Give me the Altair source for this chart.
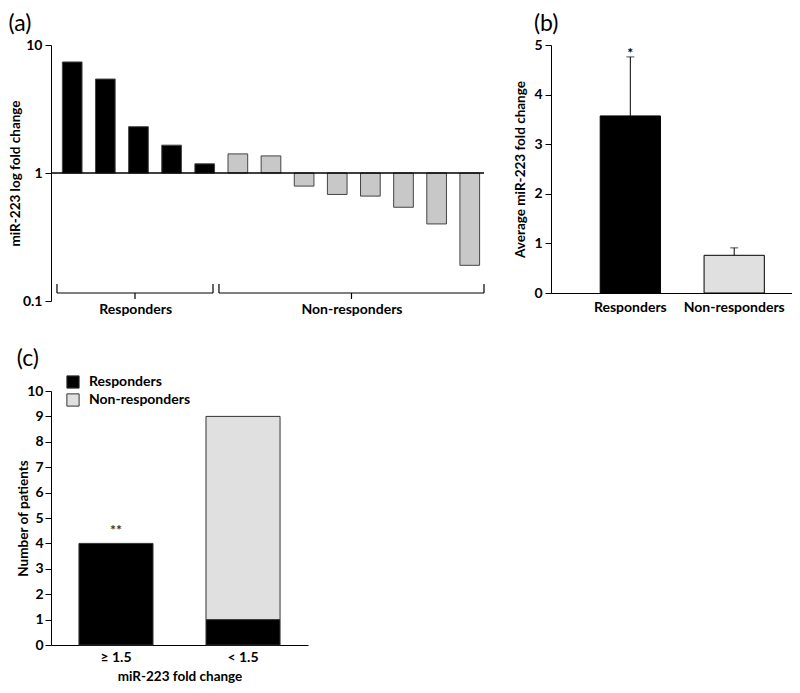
import altair as alt
import pandas as pd

FONT = "Lato"

# ---------------- data ----------------
# Panel (a): individual patients
a_pos = list(range(1, 14))
a_values = [7.37, 5.42, 2.30, 1.65, 1.18, 1.41, 1.36, 0.79, 0.68, 0.66, 0.54, 0.40, 0.19]
a_groups = ["Responders"] * 5 + ["Non-responders"] * 8
a_label_pos = [2.9, 9.43]
a_label_text = ["Responders", "Non-responders"]
br_start = [0.54, 5.43]
br_end = [5.25, 13.43]

# Panel (b): averages
b_groups = ["Responders", "Non-responders"]
b_means = [3.57, 0.76]
b_errors = [1.19, 0.15]
b_marks = ["*", ""]

# Panel (c): counts
c_bins = ["≥ 1.5", "≥ 1.5", "< 1.5", "< 1.5"]
c_groups = ["Responders", "Non-responders", "Responders", "Non-responders"]
c_counts = [4, 0, 1, 8]
c_bin_order = ["≥ 1.5", "< 1.5"]
c_marks_bins = ["≥ 1.5"]
c_marks_vals = [4]
c_marks_text = ["**"]

GROUPS = ["Responders", "Non-responders"]

axis_common = dict(
    labelFont=FONT, titleFont=FONT, labelFontWeight="bold", titleFontWeight="bold",
    labelFontSize=14, titleFontSize=13.5, labelColor="black", titleColor="black",
    domainColor="black", tickColor="black", grid=False, labelOverlap=False,
)

def panel_title(t, dx=0, offset=2):
    return alt.TitleParams(text=t, anchor="start", font=FONT, fontSize=23,
                           fontWeight="normal", color="black", offset=offset, dx=dx)

# ---------------- panel (a) ----------------
dfa = pd.DataFrame({"pos": a_pos, "value": a_values, "group": a_groups})
dfa["x0"] = dfa["pos"] - 0.297
dfa["x1"] = dfa["pos"] + 0.297
dfa["base"] = 1.0

xa = alt.Scale(domain=[0.36, 13.43], nice=False, zero=False)
ya = alt.Scale(type="log", domain=[0.1, 10], nice=False)
xa_axis = alt.Axis(values=a_label_pos, domain=False, ticks=False,
                   labelExpr="datum.value < 5 ? 'Responders' : 'Non-responders'",
                   labelPadding=1, labelFlush=False, **axis_common)
ya_axis = alt.Axis(values=[0.1, 1, 10], format="~g", tickSize=6, labelPadding=3,
                   titlePadding=0, **axis_common)
ya_title = "miR-223 log fold change"

bars_a = alt.Chart(dfa).mark_bar(stroke="#444444", strokeWidth=1).encode(
    x=alt.X("x0:Q", scale=xa, title=None, axis=xa_axis),
    x2="x1",
    y=alt.Y("value:Q", scale=ya, title=ya_title, axis=ya_axis),
    y2="base",
    color=alt.Color("group:N", scale=alt.Scale(domain=GROUPS, range=["#000000", "#c8c8c8"]),
                    legend=None),
)

base_rule = alt.Chart(pd.DataFrame({"y": [1.0]})).mark_rule(color="black", strokeWidth=1.5).encode(
    y=alt.Y("y:Q", scale=ya, title=ya_title, axis=ya_axis)
)

br_y, br_tip, br_tail = 0.1155, 0.136, 0.1037
segs = []
for s, e in zip(br_start, br_end):
    m = (s + e) / 2
    segs += [
        dict(x=s, x2=e, y=br_y, y2=br_y),
        dict(x=s, x2=s, y=br_y, y2=br_tip),
        dict(x=e, x2=e, y=br_y, y2=br_tip),
        dict(x=m, x2=m, y=br_y, y2=br_tail),
    ]
brackets = alt.Chart(pd.DataFrame(segs)).mark_rule(color="black", strokeWidth=1.2).encode(
    x=alt.X("x:Q", scale=xa, title=None, axis=xa_axis), x2="x2",
    y=alt.Y("y:Q", scale=ya, title=ya_title, axis=ya_axis), y2="y2"
)

panel_a = alt.layer(bars_a, base_rule, brackets).properties(
    width=433, height=256, title=panel_title("(a)", offset=2)
)

# ---------------- panel (b) ----------------
dfb = pd.DataFrame({"group": b_groups, "mean": b_means, "err": b_errors, "mark": b_marks})
dfb["top"] = dfb["mean"] + dfb["err"]

xb = alt.Scale(domain=b_groups, paddingInner=0.42, paddingOuter=0.37, align=0.64)
yb = alt.Scale(domain=[0, 5], nice=False)
xb_axis = alt.Axis(labelAngle=0, ticks=False, labelPadding=7, **axis_common)
yb_axis = alt.Axis(values=[0, 1, 2, 3, 4, 5], tickSize=6, labelPadding=3,
                   titlePadding=6, **axis_common)
xb_enc = alt.X("group:N", scale=xb, sort=b_groups, title=None, axis=xb_axis)
yb_title = "Average miR-223 fold change"

bars_b = alt.Chart(dfb).mark_bar(stroke="black", strokeWidth=1).encode(
    x=xb_enc,
    y=alt.Y("mean:Q", scale=yb, title=yb_title, axis=yb_axis),
    color=alt.Color("group:N", scale=alt.Scale(domain=GROUPS, range=["#000000", "#e0e0e0"]),
                    legend=None),
)
err_b = alt.Chart(dfb).mark_rule(color="black", strokeWidth=1).encode(
    x=xb_enc, y=alt.Y("mean:Q", scale=yb, title=yb_title, axis=yb_axis), y2="top"
)
cap_b = alt.Chart(dfb).mark_tick(color="black", thickness=1, size=8).encode(
    x=xb_enc, y=alt.Y("top:Q", scale=yb, title=yb_title, axis=yb_axis)
)
star_b = alt.Chart(dfb).mark_text(font=FONT, fontSize=14, fontWeight="bold", dy=-3,
                                  baseline="middle").encode(
    x=xb_enc, y=alt.Y("top:Q", scale=yb, title=yb_title, axis=yb_axis), text="mark:N"
)

panel_b = alt.layer(bars_b, err_b, cap_b, star_b).properties(
    width=241, height=248, title=panel_title("(b)", dx=20, offset=2)
)

# ---------------- panel (c) ----------------
dfc = pd.DataFrame({"bin": c_bins, "group": c_groups, "count": c_counts})
dfc["ord"] = dfc["group"].map({g: i for i, g in enumerate(GROUPS)})

xc = alt.Scale(domain=c_bin_order, paddingInner=0.417, paddingOuter=0.22)
yc = alt.Scale(domain=[0, 10], nice=False)
xc_axis = alt.Axis(labelAngle=0, ticks=False, labelPadding=5, titlePadding=5, **axis_common)
yc_axis = alt.Axis(values=list(range(11)), tickSize=6, labelPadding=2,
                   titlePadding=-4, **axis_common)
xc_enc = alt.X("bin:N", scale=xc, sort=c_bin_order, title="miR-223 fold change", axis=xc_axis)
yc_title = "Number of patients"

bars_c = alt.Chart(dfc).transform_filter("datum.count > 0").mark_bar(
    stroke="#333333", strokeWidth=1
).encode(
    x=xc_enc,
    y=alt.Y("count:Q", scale=yc, stack="zero", title=yc_title, axis=yc_axis),
    color=alt.Color("group:N", scale=alt.Scale(domain=GROUPS, range=["#000000", "#e0e0e0"]),
                    legend=alt.Legend(orient="none", legendX=15, legendY=-16, title=None,
                                      symbolType="square", symbolSize=150,
                                      symbolStrokeColor="#333333", symbolStrokeWidth=1,
                                      labelFont=FONT, labelFontSize=14, labelFontWeight="bold",
                                      labelColor="black", rowPadding=0, labelOffset=9)),
    order=alt.Order("ord:Q"),
)
star_c = alt.Chart(pd.DataFrame({"bin": c_marks_bins, "v": c_marks_vals, "t": c_marks_text})).mark_text(
    font=FONT, fontSize=14, fontWeight="bold", dy=-12, baseline="middle", color="#333333"
).encode(
    x=xc_enc, y=alt.Y("v:Q", scale=yc, title=yc_title, axis=yc_axis), text="t:N"
)

panel_c = alt.layer(bars_c, star_c).properties(
    width=257, height=254, title=panel_title("(c)", offset=4)
)

top = alt.hconcat(panel_a, panel_b, spacing=28).resolve_scale(color="independent")
chart = alt.vconcat(top, panel_c, spacing=32).resolve_scale(color="independent").properties(
    padding={"top": 5, "left": 0, "right": 0, "bottom": 0}
).configure_view(stroke=None)

chart.save("out.html", embed_options={"renderer": "svg", "actions": False})
